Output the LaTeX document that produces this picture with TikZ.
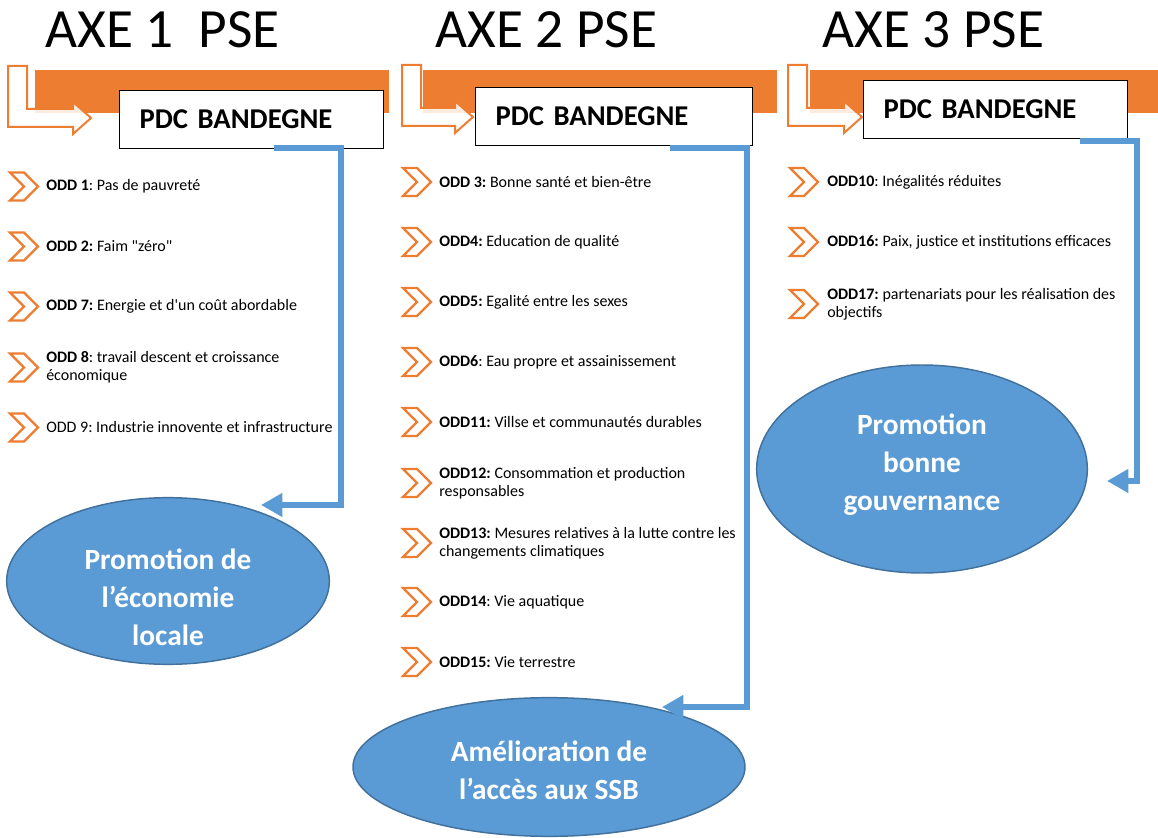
\documentclass[tikz,border=0pt]{standalone}
\usepackage{fontspec}
\setmainfont{Carlito}[Ligatures=TeXOff]
\usetikzlibrary{arrows.meta,shapes.geometric}
\definecolor{PSEOrange}{HTML}{ED7D31}
\definecolor{PSEBlue}{HTML}{5B9BD5}
\definecolor{PSEBlueDark}{HTML}{41719C}
\frenchspacing

\newcommand{\chevron}[2]{%
  \draw[chev] (#1,#2-14) -- (#1+14,#2-14) -- (#1+28,#2) -- (#1+14,#2+14) -- (#1,#2+14) -- (#1+14,#2) -- cycle;}
\newcommand{\bentarrow}[3]{%
  \draw[bent] (#1,#3-52) -- (#1+19,#3-52) -- (#1+19,#3-9) -- (#2-18,#3-9) -- (#2-18,#3-16) -- (#2,#3) -- (#2-18,#3+16) -- (#2-18,#3+9) -- (#1,#3+9) -- cycle;}

\begin{document}
\begin{tikzpicture}[
    x=0.75pt, y=-0.75pt,
    chev/.style={draw=PSEOrange, line width=1.8pt, fill=white, line join=miter},
    bent/.style={draw=PSEOrange, line width=1.5pt, fill=white, fill opacity=0.85},
    bar/.style={fill=PSEOrange},
    pdcbox/.style={draw=black, line width=0.9pt, fill=white, minimum height=43.5pt, inner xsep=15pt, align=left, anchor=north west, font=\fontsize{21.5}{26}\selectfont\bfseries},
    axe/.style={anchor=base west, inner sep=0pt, font=\fontsize{41.5}{48}\selectfont},
    oddtext/.style={anchor=west, inner sep=0pt, align=left, font=\fontsize{12}{13.5}\selectfont},
    goal/.style={ellipse, draw=PSEBlueDark, line width=1.1pt, fill=PSEBlue, inner sep=0pt},
    goaltext/.style={text=white, align=center, inner sep=0pt, font=\fontsize{22}{28.5}\selectfont\bfseries},
    link/.style={draw=PSEBlue, line width=4.5pt, line join=miter, -{Triangle[length=16pt,width=17pt]}}
 ]
\useasboundingbox (0,0) rectangle (1158,838);

\node[axe] (axe1) at (45,48) {AXE 1\ \ PSE};
\node[axe] (axe2) at (435,48) {AXE 2 PSE};
\node[axe] (axe3) at (822,48) {AXE 3 PSE};

\fill[bar] (35,70) rectangle (389,113);
\fill[bar] (423,70) rectangle (777,113);
\fill[bar] (810,70) rectangle (1158,113);

\bentarrow{8}{91}{118}
\bentarrow{402}{473}{117}
\bentarrow{788}{862}{117}

\node[pdcbox, text width=168pt] (pdc1) at (119,90) {PDC BANDEGNE};
\node[pdcbox, text width=177.75pt] (pdc2) at (475,87) {PDC BANDEGNE};
\node[pdcbox, text width=168pt] (pdc3) at (863,80) {PDC BANDEGNE};

% axe 1
\foreach \y/\t [count=\i] in {
    186.5/{\textbf{ODD 1}: Pas de pauvreté},
    246.5/{\textbf{ODD 2:} Faim "zéro"},
    306.5/{\textbf{ODD 7:} Energie et d'un coût abordable},
    367.5/{\textbf{ODD 8}: travail descent et croissance\\économique},
    427.5/{ODD 9: Industrie innovente et infrastructure}} {
    \chevron{10}{\y}
    \node[oddtext] (odd1\i) at (46,\y) {\t};
}
% axe 2
\foreach \y/\t [count=\i] in {
    182/{\textbf{ODD 3:} Bonne santé et bien-être},
    242/{\textbf{ODD4:} Education de qualité},
    302/{\textbf{ODD5:} Egalité entre les sexes},
    362/{\textbf{ODD6}: Eau propre et assainissement},
    422/{\textbf{ODD11:} Villse et communautés durables},
    483/{\textbf{ODD12:} Consommation et production\\responsables},
    543/{\textbf{ODD13:} Mesures relatives à la lutte contre les\\changements climatiques},
    602/{\textbf{ODD14}: Vie aquatique},
    662/{\textbf{ODD15:} Vie terrestre}} {
    \chevron{403}{\y}
    \node[oddtext] (odd2\i) at (439,\y) {\t};
}
% axe 3
\foreach \y/\t [count=\i] in {
    182/{\textbf{ODD10}: Inégalités réduites},
    242/{\textbf{ODD16:} Paix, justice et institutions efficaces},
    304/{\textbf{ODD17:} partenariats pour les réalisation des\\objectifs}} {
    \chevron{790}{\y}
    \node[oddtext] (odd3\i) at (827,\y) {\t};
}

\node[goal, minimum width=242pt, minimum height=125pt] (goal1) at (168,581) {};
\node[goaltext] (goal1txt) at (168,597) {Promotion de\\l’économie\\locale};
\node[goal, minimum width=294pt, minimum height=104pt] (goal2) at (549,767) {};
\node[goaltext] (goal2txt) at (549,770) {Amélioration de\\l’accès aux SSB};
\node[goal, minimum width=248pt, minimum height=156pt] (goal3) at (922,469) {};
\node[goaltext] (goal3txt) at (922,465) {Promotion\\bonne\\gouvernance};

\coordinate (s1) at (274,148);
\coordinate (t1) at (261,505);
\coordinate (s2) at (670,148);
\coordinate (t2) at (662,707);
\coordinate (s3) at (1080,141);
\coordinate (t3) at (1107,481);
\draw[link] (s1) -- ++(67,0) |- (t1);
\draw[link] (s2) -- ++(77,0) |- (t2);
\draw[link] (s3) -- ++(57,0) |- (t3);

\end{tikzpicture}
\end{document}
